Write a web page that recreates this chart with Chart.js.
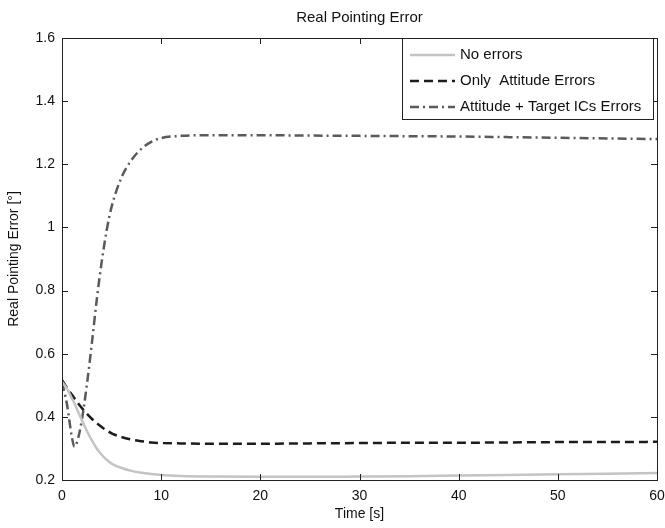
<!DOCTYPE html>
<html>
<head>
<meta charset="utf-8">
<script src="https://cdn.jsdelivr.net/npm/chart.js@4"></script>
<style>
  html, body { margin: 0; padding: 0; background: #fff; }
  #wrap { width: 665px; height: 528px; }
</style>
</head>
<body>
<div id="wrap"><canvas id="pointingChart" width="665" height="528"></canvas></div>
<script>
// Time samples [s]
const timeSec = [0, 0.5, 1, 1.25, 1.5, 2, 2.5, 3, 3.5, 4, 4.5, 5, 6, 7, 8, 9, 10, 12, 15, 20, 25, 30, 35, 40, 45, 50, 55, 60];

// Real pointing error [deg]
const noErrors = [0.51, 0.49, 0.458, 0.443, 0.425, 0.39, 0.356, 0.326, 0.3, 0.28, 0.264, 0.252, 0.238, 0.229, 0.223, 0.219, 0.216, 0.213, 0.211, 0.21, 0.21, 0.211, 0.212, 0.214, 0.216, 0.218, 0.22, 0.222];
const attitudeOnly = [0.516, 0.492, 0.47, 0.459, 0.448, 0.428, 0.41, 0.394, 0.38, 0.368, 0.357, 0.348, 0.336, 0.328, 0.323, 0.319, 0.317, 0.316, 0.315, 0.315, 0.316, 0.317, 0.318, 0.318, 0.319, 0.32, 0.32, 0.321];
const attitudeTarget = [0.51, 0.44, 0.335, 0.305, 0.318, 0.39, 0.5, 0.63, 0.77, 0.89, 0.99, 1.065, 1.158, 1.213, 1.249, 1.271, 1.283, 1.29, 1.292, 1.292, 1.291, 1.29, 1.289, 1.288, 1.286, 1.284, 1.282, 1.28];

const seriesNames = ["No errors", "Only  Attitude Errors", "Attitude + Target ICs Errors"];
const xTicks = [0, 10, 20, 30, 40, 50, 60];
const yTicks = [0.2, 0.4, 0.6, 0.8, 1, 1.2, 1.4, 1.6];

const FONT = "'Liberation Sans', Arial, sans-serif";

function toPoints(values) {
  return timeSec.map((t, i) => ({ x: t, y: values[i] }));
}

// MATLAB-like box with inward ticks on all four sides
const boxAxes = {
  id: "boxAxes",
  afterDatasetsDraw(chart) {
    const { ctx, chartArea: a, scales } = chart;
    ctx.save();
    ctx.strokeStyle = "#222";
    ctx.lineWidth = 1;
    ctx.strokeRect(a.left + 0.5, a.top + 0.5, a.right - a.left, a.bottom - a.top);
    ctx.beginPath();
    xTicks.forEach((v) => {
      const px = Math.round(scales.x.getPixelForValue(v)) + 0.5;
      ctx.moveTo(px, a.bottom); ctx.lineTo(px, a.bottom - 6);
      ctx.moveTo(px, a.top); ctx.lineTo(px, a.top + 6);
    });
    yTicks.forEach((v) => {
      const py = Math.round(scales.y.getPixelForValue(v)) + 0.5;
      ctx.moveTo(a.left, py); ctx.lineTo(a.left + 6, py);
      ctx.moveTo(a.right, py); ctx.lineTo(a.right - 6, py);
    });
    ctx.stroke();
    ctx.restore();
  },
};

// Legend box in the upper right corner of the plot
const boxLegend = {
  id: "boxLegend",
  afterDraw(chart) {
    const { ctx, chartArea: a } = chart;
    const left = 402, right = a.right - 4, top = a.top + 0.5, bottom = 119.5;
    ctx.save();
    ctx.fillStyle = "#fff";
    ctx.fillRect(left, top, right - left, bottom - top);
    ctx.strokeStyle = "#222";
    ctx.lineWidth = 1;
    ctx.strokeRect(left + 0.5, top, right - left, bottom - top);
    chart.data.datasets.forEach((ds, i) => {
      const y = 55 + i * 26;
      ctx.beginPath();
      ctx.strokeStyle = ds.borderColor;
      ctx.lineWidth = ds.borderWidth;
      ctx.setLineDash(ds.borderDash || []);
      ctx.moveTo(410, y); ctx.lineTo(455, y);
      ctx.stroke();
      ctx.setLineDash([]);
      ctx.fillStyle = "#111";
      ctx.font = "15px " + FONT;
      ctx.textBaseline = "middle";
      ctx.fillText(ds.label, 460, y);
    });
    ctx.restore();
  },
};

new Chart(document.getElementById("pointingChart"), {
  type: "line",
  data: {
    datasets: [
      {
        label: seriesNames[0],
        data: toPoints(noErrors),
        borderColor: "#c4c4c4",
        borderWidth: 2.5,
      },
      {
        label: seriesNames[1],
        data: toPoints(attitudeOnly),
        borderColor: "#1c1c1c",
        borderWidth: 2.5,
        borderDash: [9, 5],
      },
      {
        label: seriesNames[2],
        data: toPoints(attitudeTarget),
        borderColor: "#5a5a5a",
        borderWidth: 2.5,
        borderDash: [9, 4, 2, 4],
      },
    ],
  },
  options: {
    responsive: false,
    animation: false,
    cubicInterpolationMode: "monotone",
    elements: { point: { radius: 0 } },
    layout: { padding: { left: 0, right: 8, top: 0, bottom: 0 } },
    plugins: {
      legend: { display: false },
      tooltip: { enabled: false },
      title: {
        display: true,
        fullSize: false,
        text: "Real Pointing Error",
        color: "#111",
        font: { family: FONT, size: 15, weight: "normal" },
        padding: { top: 9, bottom: 11 },
      },
    },
    scales: {
      x: {
        type: "linear",
        min: 0,
        max: 60,
        afterBuildTicks: (scale) => { scale.ticks = xTicks.map((v) => ({ value: v })); },
        afterFit: (scale) => {
          scale.height = 48;
          scale.paddingLeft = 0;
          scale.paddingRight = 0;
        },
        grid: { display: false, drawTicks: false },
        border: { display: false },
        ticks: { color: "#111", padding: 8, font: { family: FONT, size: 14 } },
        title: {
          display: true,
          text: "Time [s]",
          color: "#111",
          font: { family: FONT, size: 14 },
          padding: { top: 0, bottom: 5 },
        },
      },
      y: {
        min: 0.2,
        max: 1.6,
        afterBuildTicks: (scale) => { scale.ticks = yTicks.map((v) => ({ value: v })); },
        afterFit: (scale) => { scale.width = 62; },
        grid: { display: false, drawTicks: false },
        border: { display: false },
        ticks: {
          color: "#111",
          padding: 7,
          font: { family: FONT, size: 14 },
          callback: (v) => String(+v.toFixed(1)),
        },
        title: {
          display: true,
          text: "Real Pointing Error [°]",
          color: "#111",
          font: { family: FONT, size: 14 },
          padding: { top: 6, bottom: 2 },
        },
      },
    },
  },
  plugins: [boxAxes, boxLegend],
});
</script>
</body>
</html>
